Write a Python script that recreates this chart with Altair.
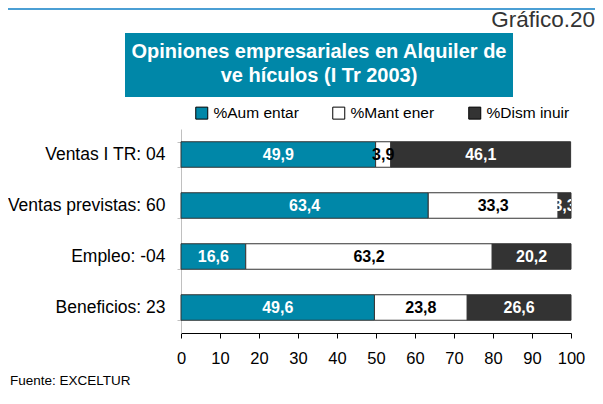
import altair as alt
import pandas as pd

categorias = ["Ventas I TR: 04", "Ventas previstas: 60", "Empleo: -04", "Beneficios: 23"]
series = ["%Aum entar", "%Mant ener", "%Dism inuir"]
aumentar = [49.9, 63.4, 16.6, 49.6]
mantener = [3.9, 33.3, 63.2, 23.8]
disminuir = [46.1, 3.3, 20.2, 26.6]
colores = ["#0087a8", "#ffffff", "#333333"]
ticks_x = [0, 10, 20, 30, 40, 50, 60, 70, 80, 90, 100]

rows = []
for i, c in enumerate(categorias):
    for j, (s, vals) in enumerate(zip(series, [aumentar, mantener, disminuir])):
        rows.append({"cat": c, "serie": s, "ord": j, "valor": vals[i]})
df = pd.DataFrame(rows)

FONT = "Liberation Sans"

base = alt.Chart(df).transform_stack(
    stack="valor", groupby=["cat"], as_=["x0", "x1"],
    sort=[alt.SortField("ord", order="ascending")]
).transform_calculate(
    mid="(datum.x0 + datum.x1) / 2",
    etiqueta="replace(format(datum.valor, '.1f'), '.', ',')"
)

y_axis = alt.Axis(title=None, labelFontSize=17.5, labelColor="#000000", labelPadding=12,
                  tickSize=4, tickBand="extent", domainColor="#c0c0c0", tickColor="#c0c0c0",
                  labelLimit=300)
x_axis = alt.Axis(title=None, values=ticks_x, grid=False, tickSize=5, labelPadding=12,
                  labelFontSize=16.5, domainColor="#000000", tickColor="#000000",
                  labelColor="#000000", labelFlush=False, labelOverlap=False)
x_scale = alt.Scale(domain=[0, 100], nice=False)
y_scale = alt.Scale(paddingInner=0.5, paddingOuter=0.25)

bars = base.mark_bar(stroke="#333333", strokeWidth=1).encode(
    x=alt.X("x0:Q", scale=x_scale, axis=x_axis),
    x2="x1:Q",
    y=alt.Y("cat:N", sort=categorias, scale=y_scale, axis=y_axis),
    color=alt.Color(
        "serie:N",
        scale=alt.Scale(domain=series, range=colores),
        legend=alt.Legend(title=None, orient="none", legendX=13, legendY=-24,
                          direction="horizontal", symbolType="square", symbolSize=144,
                          symbolStrokeColor="#000000", symbolStrokeWidth=1,
                          labelFontSize=15.5, labelColor="#000000", columnPadding=31,
                          labelOffset=4, padding=0),
    ),
)

labels = base.mark_text(fontWeight="bold", fontSize=16, clip=True, font=FONT).encode(
    x=alt.X("mid:Q", scale=x_scale, axis=x_axis),
    y=alt.Y("cat:N", sort=categorias, scale=y_scale, axis=y_axis),
    text="etiqueta:N",
    color=alt.condition(alt.datum.serie == series[1], alt.value("#000000"), alt.value("#ffffff")),
)

deco = pd.DataFrame({"k": [0]})

top_line = alt.Chart(deco).mark_rule(color="#4b9fd4", strokeWidth=2).encode(
    x=alt.value(-173), x2=alt.value(414), y=alt.value(-120)
)
grafico = alt.Chart(deco).mark_text(font=FONT, fontSize=22.5, color="#333333",
                                    align="right", baseline="alphabetic").encode(
    x=alt.value(414), y=alt.value(-102), text=alt.value("Gráfico.20")
)
box = alt.Chart(deco).mark_rect(color="#0087a8").encode(
    x=alt.value(-56), x2=alt.value(332), y=alt.value(-96), y2=alt.value(-32)
)
t1 = alt.Chart(deco).mark_text(font=FONT, fontSize=20, fontWeight="bold", color="#ffffff",
                               align="center", baseline="alphabetic").encode(
    x=alt.value(138), y=alt.value(-71), text=alt.value("Opiniones empresariales en Alquiler de")
)
t2 = alt.Chart(deco).mark_text(font=FONT, fontSize=20, fontWeight="bold", color="#ffffff",
                               align="center", baseline="alphabetic").encode(
    x=alt.value(138), y=alt.value(-47), text=alt.value("ve hículos (I Tr 2003)")
)
fuente = alt.Chart(deco).mark_text(font=FONT, fontSize=13.5, color="#000000",
                                   align="left", baseline="alphabetic").encode(
    x=alt.value(-171), y=alt.value(256), text=alt.value("Fuente: EXCELTUR")
)

chart = alt.layer(top_line, grafico, box, t1, t2, bars, labels, fuente).properties(
    width=390, height=204,
    autosize=alt.AutoSizeParams(type="none"),
    padding={"left": 173, "top": 121, "right": 24, "bottom": 63},
).configure(font=FONT).configure_view(strokeWidth=0)

chart.save("out.html", embed_options={"renderer": "svg", "actions": False})
